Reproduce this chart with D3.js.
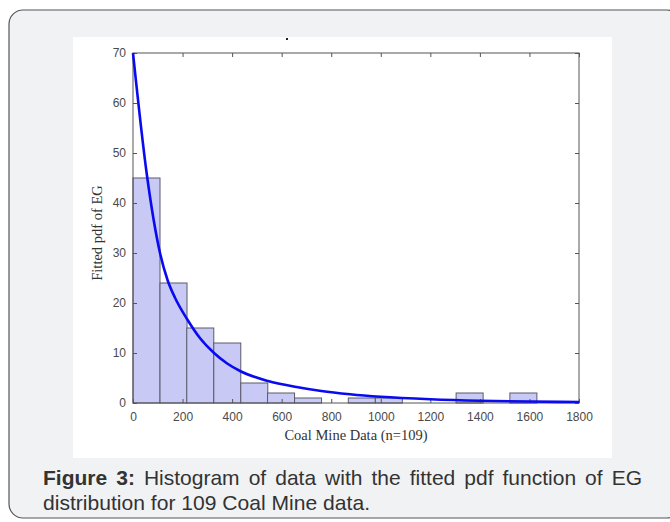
<!DOCTYPE html>
<html>
<head>
<meta charset="utf-8">
<script src="https://cdn.jsdelivr.net/npm/d3@7"></script>
<style>
	body { margin: 0; background: #fff; }
	svg { display: block; }
</style>
</head>
<body>
<svg id="svgChart" width="670" height="522"></svg>
<script>
'use strict';

// histogram bins (start of each bin) and counts
const binStarts = [0, 109, 217, 326, 435, 543, 652, 761, 869, 978, 1087, 1196, 1304, 1413, 1521];
const binWidth = 109;
const binCounts = [45, 24, 15, 12, 4, 2, 1, 0, 1, 1, 0, 0, 2, 0, 2];

// fitted pdf curve
const curveX = [0, 55, 109, 140, 170, 218, 270, 327, 380, 436, 545, 660, 760, 876, 1000, 1200, 1400, 1600, 1800];
const curveY = [70, 46, 30, 24.5, 21, 16.8, 13, 10, 7.9, 6.3, 4.4, 3.2, 2.4, 1.75, 1.25, 0.75, 0.45, 0.3, 0.2];

const xTicks = [0, 200, 400, 600, 800, 1000, 1200, 1400, 1600, 1800];
const yTicks = [0, 10, 20, 30, 40, 50, 60, 70];

const svg = d3.select('#svgChart');

// outer card
svg.append('rect')
	.attr('x', 9).attr('y', 10)
	.attr('width', 672).attr('height', 508)
	.attr('rx', 14)
	.style('fill', '#f1f2f4')
	.style('stroke', '#555')
	.style('stroke-width', 1.2);

// white figure area
svg.append('rect')
	.attr('x', 73).attr('y', 37)
	.attr('width', 539).attr('height', 421)
	.style('fill', '#fff');

const plotLeft = 133, plotRight = 579, plotTop = 53, plotBottom = 403;
const x = d3.scaleLinear().domain([0, 1800]).range([plotLeft, plotRight]);
const y = d3.scaleLinear().domain([0, 70]).range([plotBottom, plotTop]);

// bars
svg.append('g').selectAll('rect')
	.data(binStarts.map((s, i) => ({start: s, count: binCounts[i]})).filter(d => d.count > 0))
	.join('rect')
	.attr('x', d => x(d.start))
	.attr('y', d => y(d.count))
	.attr('width', d => x(d.start + binWidth) - x(d.start))
	.attr('height', d => y(0) - y(d.count))
	.style('fill', '#c9c9f6')
	.style('stroke', '#5a5a6a')
	.style('stroke-width', 1);

// axes box with inside ticks
const axisColor = '#555';
svg.append('rect')
	.attr('x', plotLeft).attr('y', plotTop)
	.attr('width', plotRight - plotLeft).attr('height', plotBottom - plotTop)
	.style('fill', 'none')
	.style('stroke', axisColor)
	.style('stroke-width', 1);

const fmt = d3.format('d');
const gx = svg.append('g').attr('transform', `translate(0,${plotBottom})`)
	.call(d3.axisBottom(x).tickValues(xTicks).tickFormat(fmt).tickSizeInner(-4).tickSizeOuter(0).tickPadding(9));
const gxTop = svg.append('g').attr('transform', `translate(0,${plotTop})`)
	.call(d3.axisTop(x).tickValues(xTicks).tickSizeInner(-4).tickSizeOuter(0).tickFormat(''));
const gy = svg.append('g').attr('transform', `translate(${plotLeft},0)`)
	.call(d3.axisLeft(y).tickValues(yTicks).tickFormat(fmt).tickSizeInner(-4).tickSizeOuter(0).tickPadding(7));
const gyRight = svg.append('g').attr('transform', `translate(${plotRight},0)`)
	.call(d3.axisRight(y).tickValues(yTicks).tickSizeInner(-4).tickSizeOuter(0).tickFormat(''));

for (const g of [gx, gxTop, gy, gyRight]) {
	g.select('.domain').remove();
	g.selectAll('line').style('stroke', axisColor);
	g.selectAll('text')
		.style('font-family', 'Liberation Sans, Arial, sans-serif')
		.style('font-size', '12px')
		.style('fill', '#4a4a4a');
}

// fitted pdf curve
const line = d3.line()
	.x((d, i) => x(curveX[i]))
	.y(d => y(d))
	.curve(d3.curveMonotoneX);
svg.append('path')
	.attr('d', line(curveY))
	.style('fill', 'none')
	.style('stroke', '#0a0af0')
	.style('stroke-width', 2.6);

// tiny title remnant
svg.append('rect')
	.attr('x', 286).attr('y', 38)
	.attr('width', 2).attr('height', 2)
	.style('fill', '#222');

// axis labels
svg.append('text')
	.attr('x', (plotLeft + plotRight) / 2)
	.attr('y', 440)
	.attr('text-anchor', 'middle')
	.style('font-family', 'Liberation Serif, Times New Roman, serif')
	.style('font-size', '14.5px')
	.style('fill', '#333')
	.text('Coal Mine Data (n=109)');

svg.append('text')
	.attr('transform', 'translate(102,233) rotate(-90)')
	.attr('text-anchor', 'middle')
	.style('font-family', 'Liberation Serif, Times New Roman, serif')
	.style('font-size', '14.5px')
	.style('fill', '#333')
	.text('Fitted pdf of EG');

// caption, first line justified
const captionFont = 'Liberation Sans, Arial, sans-serif';
const caption = svg.append('text')
	.attr('x', 43).attr('y', 485)
	.style('font-family', captionFont)
	.style('font-size', '21px')
	.style('fill', '#333');
caption.append('tspan').style('font-weight', 'bold').text('Figure 3:');
caption.append('tspan').text(' Histogram of data with the fitted pdf function of EG');
const natural = caption.node().getComputedTextLength();
caption.style('word-spacing', `${(599 - natural) / 11}px`);

svg.append('text')
	.attr('x', 43).attr('y', 510)
	.attr('textLength', 327)
	.attr('lengthAdjust', 'spacingAndGlyphs')
	.style('font-family', captionFont)
	.style('font-size', '21px')
	.style('fill', '#333')
	.text('distribution for 109 Coal Mine data.');
</script>
</body>
</html>
